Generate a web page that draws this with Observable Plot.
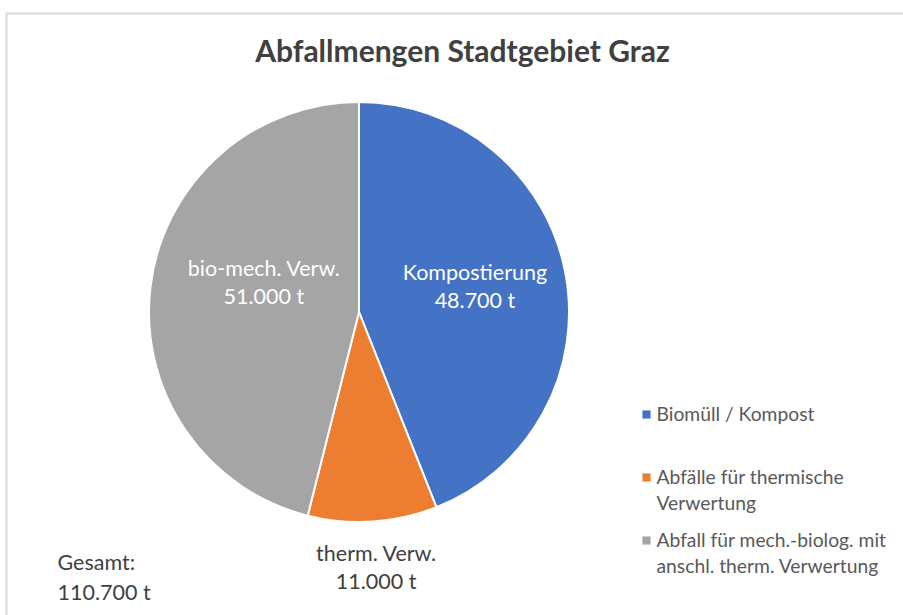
<!DOCTYPE html>
<html>
<head>
<meta charset="utf-8">
<script src="https://cdn.jsdelivr.net/npm/d3@7"></script>
<script src="https://cdn.jsdelivr.net/npm/@observablehq/plot@0.6"></script>
<style>
  html, body { margin: 0; padding: 0; background: #fff; }
  #chart svg { display: block; }
</style>
</head>
<body>
<div id="chart"></div>
<script>
// ---- data ----
const chartTitle = "Abfallmengen Stadtgebiet Graz";
const categories = ["Biomüll / Kompost", "Abfälle für thermische Verwertung", "Abfall für mech.-biolog. mit anschl. therm. Verwertung"];
const values = [48700, 11000, 51000];
const sliceLabels = ["Kompostierung", "therm. Verw.", "bio-mech. Verw."];
const legendLabels = ["Biomüll / Kompost", "Abfälle für thermische\nVerwertung", "Abfall für mech.-biolog. mit\nanschl. therm. Verwertung"];
const colors = ["#4472C4", "#ED7D31", "#A5A5A5"];
const totalLabel = "Gesamt:";
const unit = "t";

// ---- layout ----
const W = 903, H = 615;
const cx = 359, cy = 312, R = 210;
const font = "Lato, 'Noto Sans', sans-serif";
// small label nudges (best-fit placement), applied to geometry-derived positions
const labelNudge = [[2, -6], [0, 0], [19, -17]];

const de = d3.formatLocale({decimal: ",", thousands: ".", grouping: [3], currency: ["", " €"]});
const fmt = de.format(",d");

const color = Plot.scale({color: {type: "ordinal", domain: categories, range: colors}});

const rows = categories.map((c, i) => ({cat: c, value: values[i], label: sliceLabels[i], legend: legendLabels[i]}));
const pie = d3.pie().sort(null).value(d => d.value)(rows);
const total = d3.sum(values);

const labelRows = pie.map((p, i) => {
  const mid = (p.startAngle + p.endAngle) / 2;
  const frac = (p.endAngle - p.startAngle) / (2 * Math.PI);
  const inside = frac > 0.2;
  const r = inside ? R * 0.55 : R * 1.21;
  return {
    x: cx + r * Math.sin(mid) + labelNudge[i][0],
    y: cy - r * Math.cos(mid) + labelNudge[i][1],
    text: p.data.label + "\n" + fmt(p.data.value) + " " + unit,
    inside
  };
});

const arcGen = d3.arc().innerRadius(0).outerRadius(R);
function pieMark() {
  const g = d3.create("svg:g").attr("transform", `translate(${cx},${cy})`);
  g.selectAll("path").data(pie).join("path")
    .attr("d", arcGen)
    .attr("fill", d => color.apply(d.data.cat))
    .attr("stroke", "#fff")
    .attr("stroke-width", 2)
    .attr("stroke-linejoin", "round");
  return g.node();
}

const legendY0 = 414, legendStep = 63, legendX = 646;
const legendRows = rows.map((d, i) => ({...d, y: legendY0 + i * legendStep}));

const fsLabel = 21.5, fsLegend = 19.3, fsTitle = 30;

const plot = Plot.plot({
  width: W, height: H,
  margin: 0,
  x: {type: "identity", axis: null},
  y: {type: "identity", axis: null},
  style: {fontFamily: font, background: "#fff", overflow: "visible"},
  marks: [
    Plot.ruleY([13], {x1: 6, x2: W, stroke: "#d9d9d9", strokeWidth: 2}),
    Plot.ruleX([6], {y1: 13, y2: H, stroke: "#d9d9d9", strokeWidth: 2}),
    Plot.text([chartTitle], {x: 462, y: 52, text: d => d, fontSize: fsTitle, fontWeight: "bold", fill: "#404040", textAnchor: "middle"}),
    pieMark,
    Plot.text(labelRows, {x: "x", y: "y", text: "text", fill: d => d.inside ? "#ffffff" : "#404040",
      fontSize: fsLabel, lineHeight: 28 / fsLabel, textAnchor: "middle"}),
    Plot.dot(legendRows, {x: legendX, y: "y", symbol: "square", r: 4.6, fill: d => color.apply(d.cat), stroke: "none"}),
    Plot.text(legendRows, {x: 656, y: "y", text: "legend", fill: "#595959", fontSize: fsLegend, textAnchor: "start",
      lineAnchor: "top", dy: -0.39 * fsLegend - 4.5, lineHeight: 26 / fsLegend}),
    Plot.text([totalLabel + "\n" + fmt(total) + " " + unit], {x: 57, y: 562, text: d => d, fill: "#404040", fontSize: fsLabel,
      textAnchor: "start", lineAnchor: "top", dy: -0.39 * fsLabel - 5, lineHeight: 30 / fsLabel})
  ]
});
document.getElementById("chart").appendChild(plot);
</script>
</body>
</html>
